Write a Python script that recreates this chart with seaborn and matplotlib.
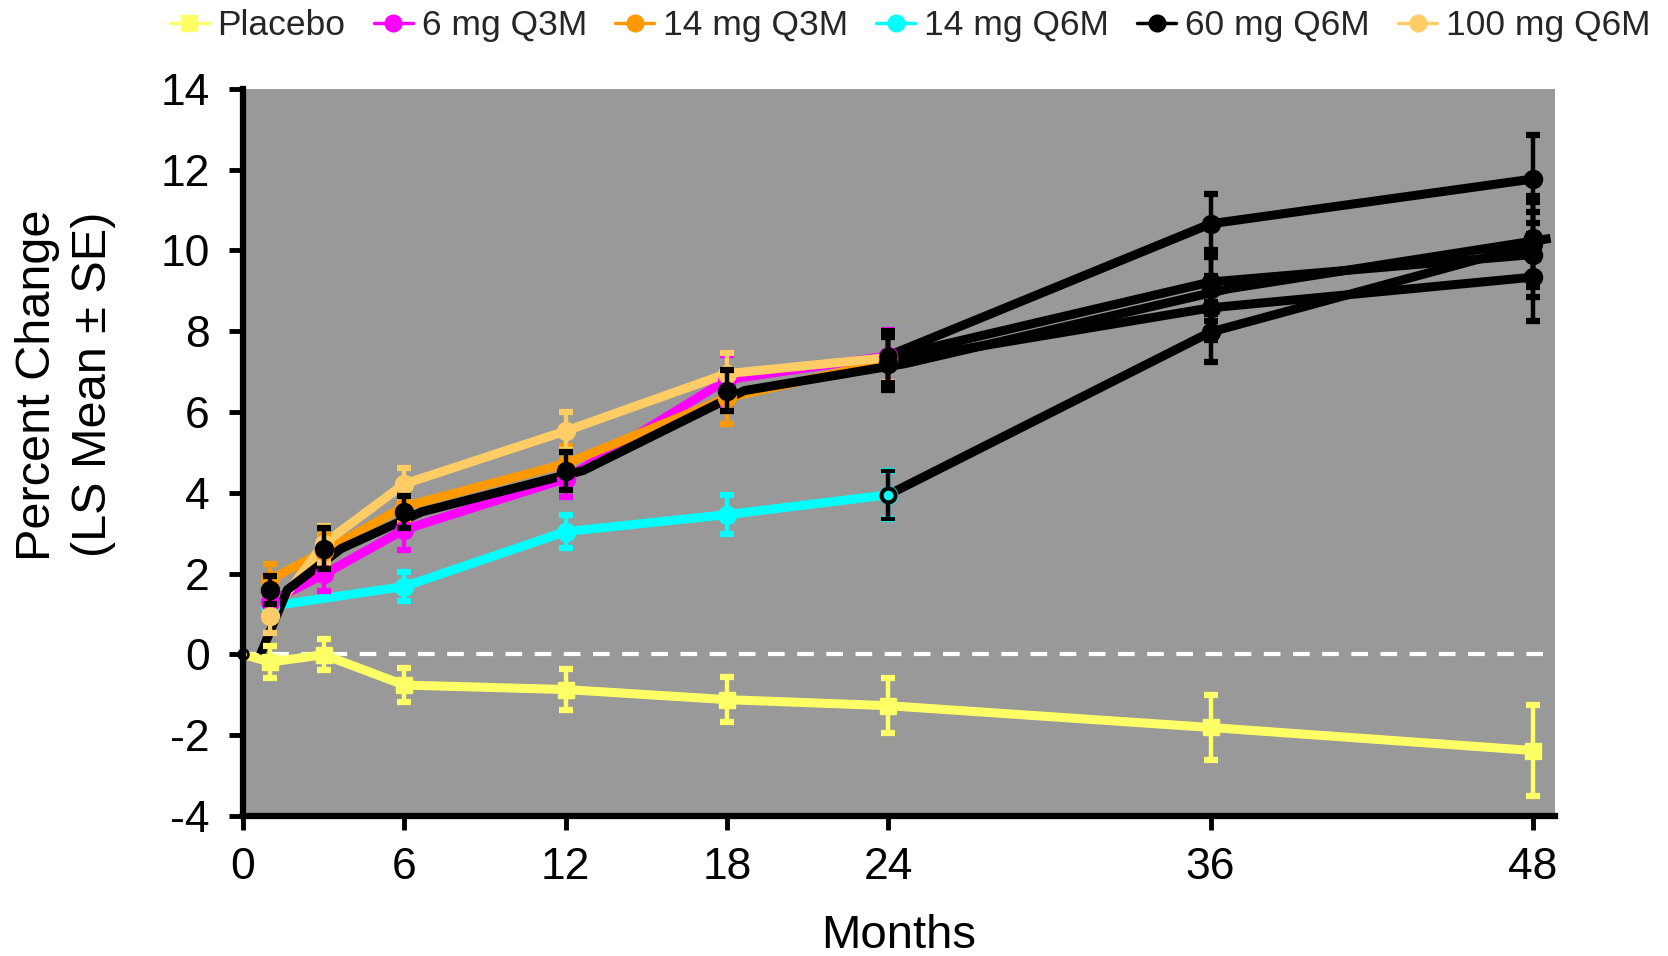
import numpy as np
import pandas as pd
import matplotlib
matplotlib.use("Agg")
import matplotlib.pyplot as plt
from matplotlib.lines import Line2D
import seaborn as sns

# -----------------------------
# data
# -----------------------------
groups = ["Placebo", "6 mg Q3M", "14 mg Q3M", "14 mg Q6M", "60 mg Q6M", "100 mg Q6M"]
colors = ["#FFFF66", "#FF00FF", "#FF9900", "#00FFFF", "#000000", "#FFCC66"]

placebo_months = [0, 1, 3, 6, 12, 18, 24, 36, 48]
placebo = [0, -0.19, -0.01, -0.76, -0.87, -1.12, -1.27, -1.81, -2.38]
placebo_se = [0, 0.4, 0.38, 0.42, 0.5, 0.55, 0.68, 0.81, 1.12]

tx_months = [1, 3, 6, 12, 18, 24]
mg6_q3m = [1.3, 1.98, 3.09, 4.35, 6.8, 7.39]
mg6_q3m_se = [0.35, 0.4, 0.5, 0.45, 0.6, 0.65]
mg14_q3m = [1.85, 2.55, 3.66, 4.72, 6.35, 7.25]
mg14_q3m_se = [0.4, 0.4, 0.4, 0.45, 0.65, 0.65]
mg100_q6m = [0.94, 2.74, 4.22, 5.53, 6.95, 7.35]
mg100_q6m_se = [0.4, 0.45, 0.4, 0.47, 0.5, 0.6]

mg14_q6m_months = [1, 6, 12, 18, 24]
mg14_q6m = [1.19, 1.68, 3.04, 3.46, 3.95]
mg14_q6m_se = [0.3, 0.35, 0.4, 0.48, 0.6]

mg60_months = [0, 1, 3, 6, 12, 18, 24, 36, 48]
mg60_q6m = [0, 1.6, 2.62, 3.53, 4.55, 6.53, 7.2, 9.05, 10.3]
mg60_q6m_se = [0, 0.35, 0.5, 0.4, 0.47, 0.5, 0.65, 0.8, 1.05]

# after month 24 everyone gets 60 mg Q6M (black)
cont_months = [24, 36, 48]
cont_6mg_q3m = [7.39, 10.66, 11.77]
cont_6mg_q3m_se = [0.65, 0.75, 1.08]
cont_14mg_q3m = [7.25, 8.58, 9.34]
cont_14mg_q3m_se = [0.65, 0.8, 1.08]
cont_14mg_q6m = [3.95, 7.98, 10.15]
cont_14mg_q6m_se = [0.6, 0.74, 1.05]
cont_100mg_q6m = [7.35, 9.22, 9.9]
cont_100mg_q6m_se = [0.65, 0.8, 1.05]

x_ticks = [0, 6, 12, 18, 24, 36, 48]
y_ticks = [-4, -2, 0, 2, 4, 6, 8, 10, 12, 14]

# -----------------------------
# tables
# -----------------------------
series = {
    "Placebo": (placebo_months, placebo, placebo_se),
    "6 mg Q3M": (tx_months, mg6_q3m, mg6_q3m_se),
    "14 mg Q3M": (tx_months, mg14_q3m, mg14_q3m_se),
    "14 mg Q6M": (mg14_q6m_months, mg14_q6m, mg14_q6m_se),
    "100 mg Q6M": (tx_months, mg100_q6m, mg100_q6m_se),
}
rows = []
for g, (m, v, s) in series.items():
    for mi, vi, si in zip(m, v, s):
        rows.append({"group": g, "month": mi, "value": vi, "se": si})
df = pd.DataFrame(rows)

cont = {
    "6 mg Q3M": (cont_6mg_q3m, cont_6mg_q3m_se),
    "14 mg Q3M": (cont_14mg_q3m, cont_14mg_q3m_se),
    "14 mg Q6M": (cont_14mg_q6m, cont_14mg_q6m_se),
    "100 mg Q6M": (cont_100mg_q6m, cont_100mg_q6m_se),
}
crow = []
for g, (v, s) in cont.items():
    for mi, vi, si in zip(cont_months, v, s):
        crow.append({"group": g, "month": mi, "value": vi, "se": si})
df_cont = pd.DataFrame(crow)

df60 = pd.DataFrame({"month": mg60_months, "value": mg60_q6m, "se": mg60_q6m_se})
# the 60 mg line sits a little to the right of its markers in the original
df60["line_x"] = df60["month"] + 0.65

palette = dict(zip(groups, colors))

# -----------------------------
# plot
# -----------------------------
sns.set_theme(style="ticks")
plt.rcParams["font.family"] = ["Liberation Sans", "DejaVu Sans"]

fig = plt.figure(figsize=(16.68, 9.56), dpi=100)
ax = fig.add_axes([0.1457, 0.1465, 0.7863, 0.7605])
ax.set_facecolor("#999999")

ax.axhline(0, color="white", linewidth=3, dashes=(4, 3), zorder=1)

lw = 6.5
order = ["Placebo", "14 mg Q6M", "6 mg Q3M", "14 mg Q3M", "100 mg Q6M"]
for i, g in enumerate(order):
    sns.lineplot(data=df[df.group == g], x="month", y="value", color=palette[g],
                 ax=ax, estimator=None, sort=False, zorder=2 + i * 0.1)

sns.lineplot(data=df_cont, x="month", y="value", units="group", color="black",
             ax=ax, estimator=None, sort=False, zorder=3)
sns.lineplot(data=df60, x="line_x", y="value", color="black", ax=ax,
             estimator=None, sort=False, zorder=3.1)
# heavy stroke like the original
for ln in ax.get_lines():
    if ln.get_zorder() >= 2:
        ln.set_linewidth(lw)
        ln.set_solid_capstyle("butt")

# markers + error bars
eb = dict(elinewidth=3.2, capsize=5, capthick=4.5)
for g in order:
    d = df[df.group == g]
    if g == "Placebo":
        ax.errorbar(d.month[1:], d.value[1:], yerr=d.se[1:], fmt="s", ms=12,
                    color=palette[g], ecolor=palette[g], zorder=4, **eb)
    else:
        ax.errorbar(d.month, d.value, yerr=d.se, fmt="o", ms=13,
                    color=palette[g], ecolor=palette[g], zorder=4, **eb)

d = df60[df60.month > 0]
ax.errorbar(d.month, d.value, yerr=d.se, fmt="o", ms=13, color="black",
            zorder=5, **eb)

for g in cont:
    d = df_cont[df_cont.group == g]
    ax.errorbar(d.month[1:], d.value[1:], yerr=d.se[1:], fmt="o", ms=13,
                color="black", zorder=5, **eb)
    face = palette[g] if g == "14 mg Q6M" else "black"
    ax.errorbar(d.month[:1], d.value[:1], yerr=d.se[:1], fmt="o", ms=10,
                mfc=face, mec="black", mew=3, color="black", zorder=5, **eb)

# baseline marker
ax.plot([placebo_months[0]], [placebo[0]], "o", ms=7, mfc="none", mec="black",
        mew=2, zorder=6, clip_on=False)

ax.set_xlim(0, 48.8)
ax.set_ylim(-4, 14)
ax.set_xticks(x_ticks)
ax.set_yticks(y_ticks)
ax.set_yticklabels([str(t) for t in y_ticks])
ax.tick_params(axis="both", direction="out", length=10, width=3.5,
               labelsize=32, colors="black")
ax.tick_params(axis="y", pad=14)
ax.tick_params(axis="x", pad=12)

for side in ["top", "right"]:
    ax.spines[side].set_visible(False)
for side in ["left", "bottom"]:
    ax.spines[side].set_linewidth(4.5)
    ax.spines[side].set_color("black")

ax.set_xlabel("Months", fontsize=34, labelpad=19, color="black")
ax.set_ylabel("Percent Change\n(LS Mean \u00b1 SE)", fontsize=35,
              linespacing=1.3, color="black")
ax.yaxis.set_label_coords(-0.097, 0.593)

handles = []
for g, c in zip(groups, colors):
    handles.append(Line2D([0], [0], color=c, linewidth=2.5,
                          marker="s" if g == "Placebo" else "o", ms=12))
fig.legend(handles, groups, loc="center", bbox_to_anchor=(0.5456, 0.973),
           ncol=6, frameon=False, handlelength=1.1, handletextpad=0.25,
           columnspacing=0.8, prop={"size": 25.5})

fig.savefig("out.png", dpi=100)
